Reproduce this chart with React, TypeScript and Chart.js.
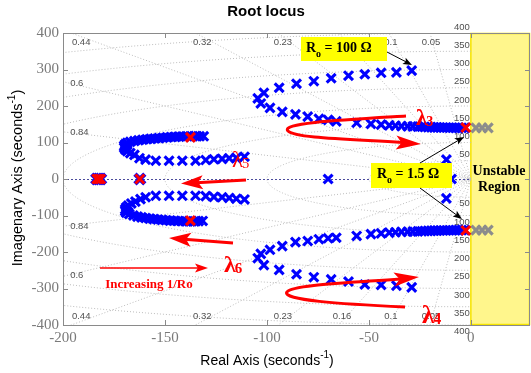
import React, { useEffect, useRef } from "react";
import { Chart, registerables } from "chart.js";

Chart.register(...registerables);

// ---------- text ----------
const chartTitle = "Root locus";
const xAxisTitle = "Real Axis (seconds";
const yAxisTitle = "Imagenary Axis (seconds";

// ---------- axes ----------
const xTicks = [-200, -150, -100, -50, 0];
const yTicks = [-400, -300, -200, -100, 0, 100, 200, 300, 400];
const X_MIN = -200;
const X_MAX = 29;
const Y_MIN = -400;
const Y_MAX = 400;

// s-plane grid (damping ratios and natural frequencies)
const zetaValues = [0.05, 0.1, 0.16, 0.23, 0.32, 0.44, 0.6, 0.84];
const wnValues = [50, 100, 150, 200, 250, 300, 350, 400];

// ---------- root-locus data ----------
// λ3 branch (upper), from the Ro = 100 Ω end towards the Ro = 1.5 Ω end
const l3Re = [-29, -36.5, -44, -52, -60, -68.5, -77, -85.5, -94, -101.5, -104.5, -103, -98.5, -92.5, -86, -80, -74.5, -70, -66, -56, -49, -44, -40, -37, -34, -31, -28.5, -26, -24, -22.5, -21, -19.5, -18, -16.5, -15, -13.5, -12, -10.5, -9, -7.5, -6, -4.5, -3];
const l3Im = [297, 292, 291, 287, 283, 276, 268, 261, 250, 236, 221, 207, 195, 184, 177, 171, 165, 162, 158, 154, 151, 149, 147, 146, 145, 144.5, 144, 143.5, 143, 142.5, 142, 142, 141.5, 141.5, 141, 141, 141, 140.5, 140.5, 140, 140, 140, 140];
// λ4 branch (lower)
const l4Re = [-29, -36.5, -44, -52, -60, -68.5, -77, -85.5, -94, -101.5, -104.5, -103, -98.5, -92.5, -86, -80, -74.5, -70, -66, -56, -49, -44, -40, -37, -34, -31, -28.5, -26, -24, -22.5, -21, -19.5, -18, -16.5, -15, -13.5, -12, -10.5, -9, -7.5, -6, -4.5, -3];
const l4Im = [-297, -292, -290, -289, -281, -275, -269, -261, -249, -236, -217, -205, -194, -184, -173, -170, -165, -162.5, -161, -156, -151, -149, -147, -146, -145, -144.5, -144, -143.5, -143, -142.5, -142, -142, -141.5, -141.5, -141, -141, -141, -140.5, -140.5, -140, -140, -140, -140];
// λ5 branch (upper left)
const l5Re = [-131, -133, -135, -137, -139, -141, -143, -145, -147, -149, -151, -153, -155, -157, -159, -161, -163, -165, -167, -168.5, -169.5, -170, -170, -169.5, -168.5, -167, -165, -162.5, -159.5, -154.5, -148, -141.5, -135, -130, -126, -122, -118.5, -115, -111];
const l5Im = [117, 117, 117.5, 117, 117, 116.5, 116, 115.5, 115, 114, 113, 112, 111, 110, 109, 107.5, 106, 104, 102, 99, 95, 91, 86, 81, 76, 71, 66, 57, 53, 50, 50, 50, 50, 52, 54, 55, 57, 58, 61];
// λ6 branch (lower left)
const l6Re = [-131.5, -133.5, -135.5, -137.5, -139.5, -141.5, -143.5, -145.5, -147.5, -149.5, -151.5, -153.5, -155.5, -157.5, -159.5, -161.5, -163.5, -165.5, -167.5, -169, -169.5, -169.5, -169, -168, -166.5, -164.5, -162, -159.5, -154.5, -148, -141.5, -135, -130, -126, -122, -118.5, -115, -111];
const l6Im = [-115, -115.5, -116, -116, -116, -115.5, -115, -114.5, -114, -113, -112, -111, -110, -108.5, -107, -105, -103, -100, -96, -92, -88, -83, -78, -73, -67, -62, -55, -50, -46, -46, -46, -46, -47, -49, -50, -52, -54, -56];
// other blue poles
const otherRe = [-70, -12, -12, -9.5];
const otherIm = [0, 53, -53, 0];
// red poles (Ro = 1.5 Ω)
const redRe = [-137.5, -137.5, -183.5, -182.5, -181.5, -162.3, -2.5, -2.5];
const redIm = [114, -114, 0, 0, 0, 0, 141, -141];
// real-axis red poles with a blue outline
const axisPoleRe = [-183.5, -182.5, -181.5, -162.3];
const axisPoleIm = [0, 0, 0, 0];
// gray poles in the unstable region
const grayRe = [2.5, 5.5, 8.5, 2.5, 5.5, 8.5];
const grayIm = [140, 140, 140, -140, -140, -140];

const SERIF = '"Liberation Serif", "Times New Roman", serif';
const SANS = '"Liberation Sans", Arial, Helvetica, sans-serif';

const pts = (re: number[], im: number[]) => re.map((r, i) => ({ x: r, y: im[i] }));

function arrowHead(ctx: CanvasRenderingContext2D, fx: number, fy: number, tx: number, ty: number, len: number, hw: number, color: string) {
  const ang = Math.atan2(ty - fy, tx - fx);
  const c = Math.cos(ang), s = Math.sin(ang);
  const bx = tx - len * c, by = ty - len * s;
  const nx = tx - len * 0.78 * c, ny = ty - len * 0.78 * s;
  ctx.fillStyle = color;
  ctx.beginPath();
  ctx.moveTo(tx, ty);
  ctx.lineTo(bx - hw * s, by + hw * c);
  ctx.lineTo(nx, ny);
  ctx.lineTo(bx + hw * s, by - hw * c);
  ctx.closePath();
  ctx.fill();
}

function straightArrow(ctx: CanvasRenderingContext2D, fx: number, fy: number, tx: number, ty: number, lw: number, len: number, hw: number, color: string) {
  const ang = Math.atan2(ty - fy, tx - fx);
  ctx.strokeStyle = color;
  ctx.lineWidth = lw;
  ctx.setLineDash([]);
  ctx.beginPath();
  ctx.moveTo(fx, fy);
  ctx.lineTo(tx - len * 0.7 * Math.cos(ang), ty - len * 0.7 * Math.sin(ang));
  ctx.stroke();
  arrowHead(ctx, fx, fy, tx, ty, len, hw, color);
}

function drawRo(ctx: CanvasRenderingContext2D, x: number, y: number, value: string) {
  ctx.fillStyle = "#000";
  ctx.textAlign = "left";
  ctx.textBaseline = "alphabetic";
  ctx.font = `bold 14px ${SERIF}`;
  ctx.fillText("R", x, y);
  let w = ctx.measureText("R").width;
  ctx.font = `bold 10px ${SERIF}`;
  ctx.fillText("o", x + w, y + 5);
  w += ctx.measureText("o").width;
  ctx.font = `bold 14px ${SERIF}`;
  ctx.fillText(" = " + value + " Ω", x + w, y);
}

function drawLambda(ctx: CanvasRenderingContext2D, x: number, y: number, sub: string, size: number, bold: boolean) {
  ctx.fillStyle = "#ff0000";
  ctx.textAlign = "left";
  ctx.textBaseline = "alphabetic";
  const b = bold ? "bold " : "";
  ctx.font = `${b}${size}px ${SERIF}`;
  ctx.fillText("λ", x, y);
  const w = ctx.measureText("λ").width;
  ctx.font = `${b}${Math.round(size * 0.62)}px ${SERIF}`;
  ctx.fillText(sub, x + w - 1, y + 1);
}

function textWithSup(ctx: CanvasRenderingContext2D, main: string, sup: string, tail: string, size: number) {
  ctx.font = `${size}px ${SANS}`;
  const w1 = ctx.measureText(main).width;
  ctx.font = `${Math.round(size * 0.7)}px ${SANS}`;
  const w2 = ctx.measureText(sup).width;
  ctx.font = `${size}px ${SANS}`;
  const w3 = ctx.measureText(tail).width;
  const total = w1 + w2 + w3;
  let x = -total / 2;
  ctx.textAlign = "left";
  ctx.textBaseline = "middle";
  ctx.fillStyle = "#000";
  ctx.font = `${size}px ${SANS}`;
  ctx.fillText(main, x, 0);
  x += w1;
  ctx.font = `${Math.round(size * 0.7)}px ${SANS}`;
  ctx.fillText(sup, x, -size * 0.4);
  x += w2;
  ctx.font = `${size}px ${SANS}`;
  ctx.fillText(tail, x, 0);
}

const backgroundPlugin = {
  id: "rlBackground",
  beforeDatasetsDraw(chart: any) {
    const { ctx, chartArea: a, scales } = chart;
    const xs = scales.x, ys = scales.y;
    const px = (v: number) => xs.getPixelForValue(v);
    const py = (v: number) => ys.getPixelForValue(v);
    ctx.save();
    // unstable region
    ctx.fillStyle = "#FFF68C";
    ctx.fillRect(px(0), a.top, a.right - px(0), a.bottom - a.top);
    ctx.strokeStyle = "#F5E400";
    ctx.lineWidth = 1.5;
    ctx.strokeRect(px(0), a.top + 0.5, a.right - px(0) - 0.5, a.bottom - a.top - 1);

    // grid, clipped to left half-plane
    ctx.save();
    ctx.beginPath();
    ctx.rect(a.left, a.top, px(0) - a.left, a.bottom - a.top);
    ctx.clip();
    ctx.strokeStyle = "#bdbdbd";
    ctx.lineWidth = 1;
    ctx.setLineDash([1, 2]);
    for (const wn of wnValues) {
      ctx.beginPath();
      for (let i = 0; i <= 360; i++) {
        const t = Math.PI / 2 + (i * Math.PI) / 360;
        const X = px(wn * Math.cos(t)), Y = py(wn * Math.sin(t));
        if (i === 0) ctx.moveTo(X, Y);
        else ctx.lineTo(X, Y);
      }
      ctx.stroke();
    }
    for (const z of zetaValues) {
      const s = Math.sqrt(1 - z * z);
      const R = 3000;
      ctx.beginPath();
      ctx.moveTo(px(-R * z), py(R * s));
      ctx.lineTo(px(0), py(0));
      ctx.lineTo(px(-R * z), py(-R * s));
      ctx.stroke();
    }
    // real axis dotted line
    ctx.strokeStyle = "#4b4b9c";
    ctx.setLineDash([2, 2]);
    ctx.beginPath();
    ctx.moveTo(a.left, py(0) + 0.5);
    ctx.lineTo(px(0), py(0) + 0.5);
    ctx.stroke();
    ctx.restore();

    // grid labels
    ctx.fillStyle = "#505050";
    ctx.font = `9.5px ${SANS}`;
    ctx.textBaseline = "middle";
    ctx.textAlign = "center";
    for (const z of zetaValues) {
      const s = Math.sqrt(1 - z * z);
      if (z < 0.5) {
        const lx = px((-390 * z) / s);
        ctx.fillText(String(z), lx, py(373));
        ctx.fillText(String(z), lx, py(-375));
      }
    }
    ctx.textAlign = "left";
    for (const z of zetaValues) {
      const s = Math.sqrt(1 - z * z);
      if (z > 0.5) {
        const ly = (197 * s) / z;
        ctx.fillText(String(z), px(-196.5), py(ly));
        ctx.fillText(String(z), px(-196.5), py(-ly - 2));
      }
    }
    ctx.textAlign = "right";
    for (const wn of wnValues) {
      ctx.fillText(String(wn), px(0) - 1, py(wn) - 6);
      ctx.fillText(String(wn), px(0) - 1, py(-wn) + 6.5);
    }
    ctx.restore();
  },
};

const annotationPlugin = {
  id: "rlAnnotations",
  afterDatasetsDraw(chart: any) {
    const { ctx, chartArea: a, scales } = chart;
    const xs = scales.x, ys = scales.y;
    ctx.save();

    // frame and inward ticks
    ctx.strokeStyle = "#8a8a8a";
    ctx.lineWidth = 1;
    ctx.setLineDash([]);
    ctx.strokeRect(a.left + 0.5, a.top + 0.5, a.right - a.left - 1, a.bottom - a.top);
    ctx.beginPath();
    for (const v of yTicks) {
      const y = Math.round(ys.getPixelForValue(v)) + 0.5;
      ctx.moveTo(a.left, y);
      ctx.lineTo(a.left + 5, y);
      ctx.moveTo(a.right, y);
      ctx.lineTo(a.right - 5, y);
    }
    for (const v of xTicks) {
      const x = Math.round(xs.getPixelForValue(v)) + 0.5;
      ctx.moveTo(x, a.bottom);
      ctx.lineTo(x, a.bottom - 5);
      ctx.moveTo(x, a.top);
      ctx.lineTo(x, a.top + 5);
    }
    ctx.stroke();

    // tick labels
    ctx.fillStyle = "#7a7a7a";
    ctx.font = `15px ${SERIF}`;
    ctx.textAlign = "right";
    ctx.textBaseline = "middle";
    for (const v of yTicks) ctx.fillText(String(v), a.left - 4, ys.getPixelForValue(v));
    ctx.textAlign = "center";
    ctx.textBaseline = "top";
    for (const v of xTicks) ctx.fillText(String(v), xs.getPixelForValue(v), a.bottom + 6);

    // title
    ctx.fillStyle = "#000";
    ctx.font = `bold 15px ${SANS}`;
    ctx.textAlign = "center";
    ctx.textBaseline = "middle";
    ctx.fillText(chartTitle, 266, 12);

    // axis titles
    ctx.save();
    ctx.translate(267, 361);
    textWithSup(ctx, xAxisTitle, "-1", ")", 14);
    ctx.restore();
    ctx.save();
    ctx.translate(18, 178);
    ctx.rotate(-Math.PI / 2);
    textWithSup(ctx, yAxisTitle, "-1", ")", 14.5);
    ctx.restore();

    // Ro = 100 box
    ctx.fillStyle = "#FFFF00";
    ctx.fillRect(301, 37, 86, 24);
    drawRo(ctx, 306, 52, "100");
    straightArrow(ctx, 387, 52, 412, 65, 1, 9, 3.5, "#000");

    // Ro = 1.5 box
    ctx.fillStyle = "#FFFF00";
    ctx.fillRect(371, 163, 81, 25);
    drawRo(ctx, 377, 178, "1.5");
    straightArrow(ctx, 420, 163, 464, 137, 1, 9, 3.5, "#000");
    straightArrow(ctx, 420, 188, 462, 219, 1, 9, 3.5, "#000");

    // Unstable region text
    ctx.fillStyle = "#000";
    ctx.font = `bold 14px ${SERIF}`;
    ctx.textAlign = "center";
    ctx.textBaseline = "alphabetic";
    ctx.fillText("Unstable", 499, 175);
    ctx.fillText("Region", 499, 191);

    // red hairpin arrows
    ctx.strokeStyle = "#ff0000";
    ctx.lineWidth = 3;
    ctx.beginPath();
    ctx.moveTo(406, 116);
    ctx.bezierCurveTo(340, 120, 280, 123, 288, 131);
    ctx.bezierCurveTo(295, 138, 345, 139, 402, 142.5);
    ctx.stroke();
    arrowHead(ctx, 396, 142.5, 421, 144, 25, 7, "#ff0000");

    ctx.beginPath();
    ctx.moveTo(405, 307);
    ctx.bezierCurveTo(340, 304, 281, 300, 287, 292);
    ctx.bezierCurveTo(292, 285, 345, 283, 400, 279);
    ctx.stroke();
    arrowHead(ctx, 394, 279.5, 419, 277, 25, 7, "#ff0000");

    // λ5 / λ6 arrows
    straightArrow(ctx, 246, 180, 181, 183.5, 3, 22, 7, "#ff0000");
    straightArrow(ctx, 233, 243, 169, 238, 3, 22, 7, "#ff0000");

    // increasing 1/Ro
    straightArrow(ctx, 100, 268, 208, 268, 1.5, 13, 4.5, "#ff0000");
    ctx.fillStyle = "#ff0000";
    ctx.font = `bold 13px ${SERIF}`;
    ctx.textAlign = "center";
    ctx.textBaseline = "middle";
    ctx.fillText("Increasing 1/Ro", 149, 285);

    // λ labels
    drawLambda(ctx, 416, 125, "3", 23, true);
    drawLambda(ctx, 422, 323, "4", 25, true);
    drawLambda(ctx, 232, 167, "5", 23, false);
    drawLambda(ctx, 224, 272, "6", 24, true);

    ctx.restore();
  },
};

export default function App() {
  const canvasRef = useRef<HTMLCanvasElement | null>(null);

  useEffect(() => {
    if (!canvasRef.current) return;
    const blue = [
      ...pts(l3Re, l3Im),
      ...pts(l4Re, l4Im),
      ...pts(l5Re, l5Im),
      ...pts(l6Re, l6Im),
      ...pts(otherRe, otherIm),
    ];
    const chart = new Chart(canvasRef.current, {
      type: "scatter",
      data: {
        datasets: [
          {
            data: pts(redRe, redIm),
            order: 0,
            pointStyle: "crossRot",
            pointRadius: 6.3,
            borderWidth: 3,
            borderColor: "#ff0000",
            backgroundColor: "#ff0000",
            showLine: false,
          },
          {
            data: pts(axisPoleRe, axisPoleIm),
            order: 1,
            pointStyle: "crossRot",
            pointRadius: 7,
            borderWidth: 4.6,
            borderColor: "#0000ff",
            backgroundColor: "#0000ff",
            showLine: false,
          },
          {
            data: pts(grayRe, grayIm),
            order: 2,
            pointStyle: "crossRot",
            pointRadius: 6.3,
            borderWidth: 3.2,
            borderColor: "#8c8c8c",
            backgroundColor: "#8c8c8c",
            showLine: false,
          },
          {
            data: blue,
            order: 3,
            pointStyle: "crossRot",
            pointRadius: 6.3,
            borderWidth: 3.1,
            borderColor: "#0000ff",
            backgroundColor: "#0000ff",
            showLine: false,
          },
        ],
      },
      options: {
        animation: false,
        responsive: false,
        maintainAspectRatio: false,
        layout: { autoPadding: false, padding: { top: 33, right: 1, left: 63, bottom: 48 } },
        plugins: {
          legend: { display: false },
          title: { display: false },
          tooltip: { enabled: false },
        },
        scales: {
          x: { type: "linear", display: false, min: X_MIN, max: X_MAX },
          y: { type: "linear", display: false, min: Y_MIN, max: Y_MAX },
        },
      },
      plugins: [backgroundPlugin, annotationPlugin],
    } as any);
    return () => chart.destroy();
  }, []);

  return (
    <div style={{ position: "fixed", left: 0, top: 0, width: 531, height: 373, background: "#fff" }}>
      <canvas ref={canvasRef} width={531} height={373} style={{ display: "block" }} />
    </div>
  );
}
